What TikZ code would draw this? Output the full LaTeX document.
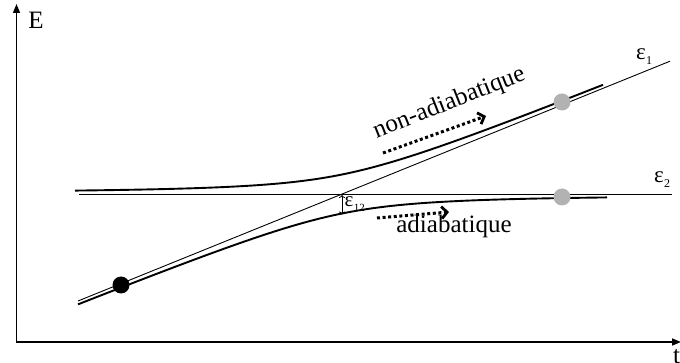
\documentclass[tikz,border=0pt]{standalone}
\usepackage{fontspec}
\setmainfont{Liberation Serif}
\usetikzlibrary{arrows.meta}
\definecolor{dotgray}{RGB}{178,178,178}
\newcommand{\mylbl}[3]{{\fontsize{#1}{#1}\selectfont ε}\kern0.3pt\raisebox{-5pt}{\fontsize{#2}{#2}\selectfont #3}}
\begin{document}
\begin{tikzpicture}[x=1pt,y=-1pt,
  axis/.style={line width=1.5pt,-{Triangle[length=9pt,width=7pt]}},
  diab/.style={line width=0.9pt},
  adiab/.style={line width=1.9pt},
  dotarrow/.style={line width=3pt,dash pattern=on 3pt off 2.6pt,-{Straight Barb[length=5.5pt,width=12pt,line width=2.8pt]}},
  txt/.style={font=\fontsize{25}{25}\selectfont,inner sep=0pt},
  dot/.style={circle,inner sep=0pt,minimum size=17pt}]
\useasboundingbox (0,0) rectangle (680,363);
% axes
\coordinate (O) at (16.5,342);
\coordinate (ytop) at (16.5,4);
\coordinate (xend) at (681,342);
\draw[axis] (O) -- (ytop);
\draw[axis] ([xshift=-0.75pt]O) -- (xend);
\node[txt] (E) at (36,20) {E};
\node[txt,anchor=base] (t) at (676.5,363) {t};
% diabatic lines
\coordinate (e1s) at (78,301);
\coordinate (e1e) at (670,61.2);
\coordinate (e2s) at (79,194);
\coordinate (e2e) at (672,194);
\draw[diab] (e1s) -- (e1e);
\draw[diab] (e2s) -- (e2e);
% adiabatic curves
\draw[adiab] plot[domain=75:603,samples=120,smooth]
  (\x,{194-0.2025*(\x-342)-sqrt((0.2025*(\x-342))*(0.2025*(\x-342))+380)});
\draw[adiab] plot[domain=78:607,samples=120,smooth]
  (\x,{194-0.2025*(\x-342)+sqrt((0.2025*(\x-342))*(0.2025*(\x-342))+380)});
% dots
\node[dot,fill=black] (b1) at (121,285) {};
\node[dot,fill=dotgray] (g1) at (562,102) {};
\node[dot,fill=dotgray] (g2) at (562,197) {};
% labels
\node[inner sep=0pt,anchor=base west] (l1) at (636,60) {\mylbl{23}{12}{1}};
\node[inner sep=0pt,anchor=base west] (l2) at (654,183) {\mylbl{23}{12}{2}};
\node[inner sep=0pt,anchor=base west] (l12) at (344.5,207) {\mylbl{21}{11}{12}};
% gap arrow
\coordinate (ga) at (342,195);
\coordinate (gb) at (342,214.5);
\draw[line width=0.8pt,{To[length=3pt,width=6pt]}-{To[length=3pt,width=6pt]}] (ga) -- (gb);
% dotted arrows
\coordinate (u1) at (383,153);
\coordinate (u2) at (486,116);
\draw[dotarrow] (u1) -- (u2);
\coordinate (a1) at (377,218);
\coordinate (a2) at (449,212);
\draw[dotarrow] (a1) -- (a2);
\node[txt,anchor=base,rotate=21.5] (nad) at (451.5,109) {non-adiabatique};
\node[txt,anchor=base] (ad) at (454,233) {adiabatique};
\end{tikzpicture}
\end{document}
